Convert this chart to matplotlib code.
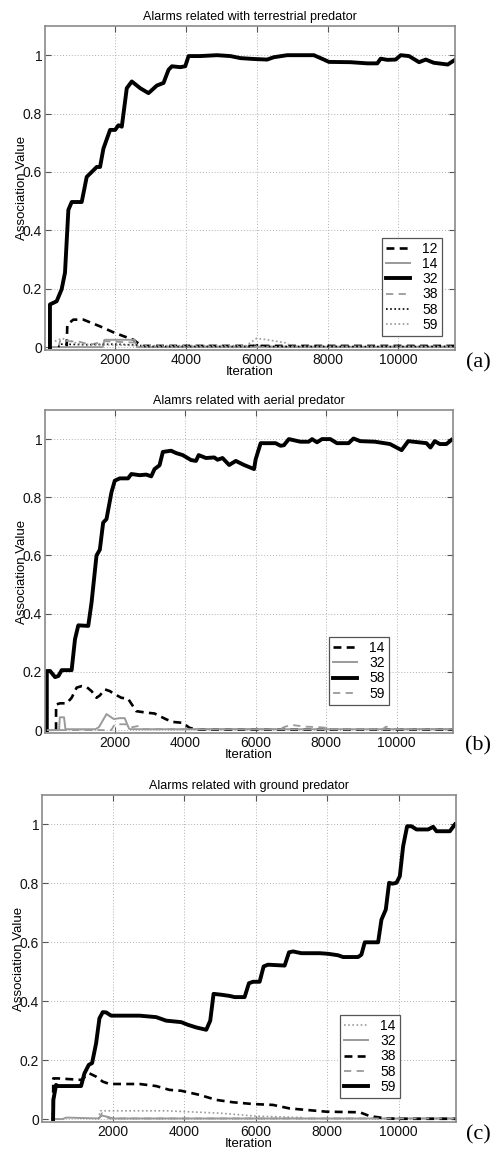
import matplotlib
matplotlib.use("Agg")
import matplotlib.pyplot as plt

# ---------------- Data ----------------
# Panel (a): terrestrial predator
a32_x = [160, 160, 349, 490, 585, 680, 774, 1057, 1198, 1340, 1481, 1575, 1670, 1858, 2000, 2094, 2189, 2330, 2472,
         2708, 2943, 3179, 3368, 3509, 3604, 3840, 3981, 4075, 4406, 4877, 5255, 5538, 5915, 6292, 6481, 6858, 7047,
         7613, 7896, 8038, 8651, 9123, 9406, 9500, 9689, 9925, 10066, 10302, 10585, 10774, 11000, 11396, 11585]
a32_y = [0.0, 0.146, 0.157, 0.198, 0.255, 0.47, 0.497, 0.497, 0.583, 0.60, 0.617, 0.617, 0.68, 0.744, 0.744, 0.76,
         0.755, 0.887, 0.91, 0.887, 0.87, 0.896, 0.905, 0.95, 0.962, 0.959, 0.962, 0.997, 0.997, 1.0, 0.997, 0.99,
         0.987, 0.985, 0.993, 1.0, 1.0, 1.0, 0.985, 0.977, 0.976, 0.972, 0.972, 0.988, 0.984, 0.985, 1.0, 0.997,
         0.976, 0.985, 0.974, 0.968, 0.983]
a12_x = [632, 650, 820, 1104, 1575, 2000, 2519, 2708, 2800, 11600]
a12_y = [0.0, 0.077, 0.094, 0.094, 0.071, 0.048, 0.025, 0.008, 0.004, 0.004]
a14_x = [160, 1650, 1700, 2550, 2620, 11600]
a14_y = [0.0, 0.0, 0.025, 0.025, 0.0, 0.0]
a38_x = [400, 450, 1000, 1300, 1700, 2600, 2750, 11600]
a38_y = [0.0, 0.022, 0.018, 0.008, 0.02, 0.015, 0.002, 0.002]
a58_x = [400, 450, 1200, 2000, 2700, 2800, 5800, 6000, 6300, 11600]
a58_y = [0.0, 0.01, 0.008, 0.01, 0.006, 0.002, 0.002, 0.008, 0.002, 0.002]
a59_x = [300, 500, 1000, 2700, 5700, 6000, 6300, 6800, 7000, 11600]
a59_y = [0.02, 0.03, 0.01, 0.005, 0.005, 0.03, 0.025, 0.015, 0.002, 0.002]

# Panel (b): aerial predator
b58_x = [71, 71, 165, 306, 400, 494, 776, 871, 965, 1247, 1341, 1482, 1576, 1671, 1765, 1906, 2000, 2141, 2376,
         2471, 2706, 2894, 3035, 3129, 3271, 3365, 3600, 3741, 3929, 4165, 4306, 4381, 4588, 4824, 4918, 5059, 5247,
         5435, 5671, 5953, 6000, 6141, 6565, 6706, 6800, 6941, 7271, 7506, 7600, 7741, 7882, 8118, 8306, 8635, 8776,
         8965, 9388, 9812, 10141, 10329, 10847, 10960, 11082, 11224, 11412, 11553]
b58_y = [0.0, 0.203, 0.203, 0.182, 0.186, 0.206, 0.206, 0.312, 0.36, 0.358, 0.438, 0.6, 0.62, 0.713, 0.725, 0.817,
         0.857, 0.865, 0.865, 0.88, 0.876, 0.878, 0.872, 0.897, 0.91, 0.956, 0.96, 0.952, 0.945, 0.928, 0.925, 0.945,
         0.935, 0.937, 0.929, 0.935, 0.911, 0.925, 0.911, 0.897, 0.931, 0.986, 0.986, 0.977, 0.979, 1.0, 0.991, 0.991,
         1.0, 0.989, 1.0, 1.0, 0.986, 0.986, 1.002, 0.993, 0.991, 0.983, 0.962, 0.993, 0.986, 0.971, 0.993, 0.983,
         0.983, 0.997]
b14_x = [334, 334, 447, 635, 776, 918, 1059, 1200, 1341, 1482, 1576, 1718, 1859, 2000, 2188, 2376, 2612, 2894, 3129,
         3459, 3647, 3929, 4118, 4306, 11600]
b14_y = [0.0, 0.088, 0.092, 0.092, 0.111, 0.146, 0.151, 0.148, 0.134, 0.111, 0.119, 0.14, 0.134, 0.123, 0.111, 0.108,
         0.065, 0.06, 0.057, 0.037, 0.028, 0.025, 0.008, 0.002, 0.002]
b32_x = [71, 420, 440, 560, 600, 1450, 1550, 1765, 1972, 2141, 2282, 2405, 2450, 11600]
b32_y = [0.0, 0.0, 0.044, 0.044, 0.003, 0.003, 0.01, 0.055, 0.038, 0.041, 0.041, 0.005, 0.003, 0.003]
b59_x = [71, 1900, 2000, 2300, 2500, 2700, 2800, 6700, 6800, 7000, 7400, 7800, 8000, 8200, 9600, 9700, 9900, 11600]
b59_y = [0.0, 0.0, 0.02, 0.02, 0.01, 0.015, 0.003, 0.003, 0.01, 0.018, 0.012, 0.01, 0.008, 0.003, 0.003, 0.012,
         0.003, 0.003]

# Panel (c): ground predator
c59_x = [330, 338, 413, 460, 1113, 1207, 1328, 1421, 1533, 1627, 1720, 1813, 1953, 2747, 3213, 3493, 3914, 4100,
         4334, 4614, 4726, 4819, 5034, 5267, 5407, 5687, 5808, 5921, 6107, 6219, 6340, 6807, 6929, 7041, 7274, 7788,
         8021, 8301, 8441, 8861, 8954, 9048, 9421, 9515, 9636, 9729, 9823, 9935, 10028, 10121, 10233, 10354, 10494,
         10821, 10961, 11054, 11428, 11568]
c59_y = [0.0, 0.065, 0.116, 0.112, 0.112, 0.155, 0.184, 0.19, 0.257, 0.342, 0.363, 0.362, 0.351, 0.351, 0.346, 0.334,
         0.329, 0.32, 0.311, 0.303, 0.334, 0.425, 0.422, 0.418, 0.414, 0.414, 0.461, 0.466, 0.466, 0.518, 0.524,
         0.521, 0.566, 0.569, 0.563, 0.563, 0.561, 0.556, 0.55, 0.55, 0.558, 0.6, 0.6, 0.677, 0.711, 0.802, 0.799,
         0.802, 0.824, 0.926, 0.994, 0.994, 0.983, 0.983, 0.992, 0.977, 0.977, 1.0]
c38_x = [330, 335, 460, 1113, 1347, 1533, 1720, 1907, 2747, 3213, 3587, 3914, 4427, 4894, 5361, 5921, 6481, 6947,
         7414, 7974, 8908, 9188, 9655, 10028, 11600]
c38_y = [0.0, 0.138, 0.138, 0.133, 0.155, 0.144, 0.127, 0.119, 0.119, 0.112, 0.099, 0.096, 0.082, 0.065, 0.057,
         0.051, 0.048, 0.036, 0.031, 0.025, 0.023, 0.01, 0.002, 0.001, 0.001]
c14_x = [1600, 1650, 3500, 5000, 6000, 7300]
c14_y = [0.0, 0.028, 0.028, 0.02, 0.01, 0.005]
c32_x = [300, 600, 700, 1600, 1700, 1900, 2000, 11600]
c32_y = [0.0, 0.0, 0.005, 0.002, 0.012, 0.006, 0.002, 0.002]
c58_x = [1600, 1700, 1800, 1900, 11600]
c58_y = [0.0, 0.02, 0.01, 0.002, 0.002]

titles = ["Alarms related with terrestrial predator",
          "Alamrs related with aerial predator",
          "Alarms related with ground predator"]
panel_tags = ["(a)", "(b)", "(c)"]
xticks = [2000, 4000, 6000, 8000, 10000]
yticks = [0, 0.2, 0.4, 0.6, 0.8, 1.0]
ytick_labels = ["0", "0.2", "0.4", "0.6", "0.8", "1"]

# ---------------- Styles ----------------
GRAY = "#9a9a9a"
BLK = dict(color="black", lw=2.8, ls="-")
BDASH = dict(color="black", lw=1.9, ls=(0, (3, 2)))
GSOL = dict(color=GRAY, lw=1.4, ls="-")
GDASH = dict(color=GRAY, lw=1.3, ls=(0, (4, 3)))
BDOT = dict(color="black", lw=1.2, ls=(0, (1, 1.5)))
GDOT = dict(color=GRAY, lw=1.2, ls=(0, (1, 1.5)))

plt.rcParams["font.family"] = ["Liberation Sans", "DejaVu Sans"]

fig = plt.figure(figsize=(4.99, 11.57), dpi=100)
W, H = 499.0, 1157.0
# (left, top, right, bottom) in pixels
boxes = [(45, 26, 455, 350), (45, 410, 453, 733), (42, 795, 456, 1122)]
legend_anchor = [(0.968, 0.346), (0.843, 0.297), (0.865, 0.327)]

series = [
    [(a12_x, a12_y, "12", BDASH), (a14_x, a14_y, "14", GSOL), (a32_x, a32_y, "32", BLK),
     (a38_x, a38_y, "38", GDASH), (a58_x, a58_y, "58", BDOT), (a59_x, a59_y, "59", GDOT)],
    [(b14_x, b14_y, "14", BDASH), (b32_x, b32_y, "32", GSOL), (b58_x, b58_y, "58", BLK),
     (b59_x, b59_y, "59", GDASH)],
    [(c14_x, c14_y, "14", GDOT), (c32_x, c32_y, "32", GSOL), (c38_x, c38_y, "38", BDASH),
     (c58_x, c58_y, "58", GDASH), (c59_x, c59_y, "59", BLK)],
]

for i, (l, t, r, b) in enumerate(boxes):
    ax = fig.add_axes([l / W, (H - b) / H, (r - l) / W, (b - t) / H])
    for xs, ys, lab, st in series[i]:
        ax.plot(xs, ys, label=lab, **st)
    ax.set_xlim(20, 11600)
    ax.set_ylim(-0.01, 1.1)
    ax.set_xticks(xticks)
    ax.set_yticks(yticks)
    ax.set_yticklabels(ytick_labels)
    ax.tick_params(direction="in", length=4, width=0.8, color="#555555", labelsize=10,
                   top=True, right=True, pad=2, labelcolor="#111111")
    ax.grid(True, ls=(0, (1, 2)), color="#b0b0b0", lw=0.7)
    for s in ax.spines.values():
        s.set_color("#8a8a8a")
        s.set_linewidth(1.2)
    ax.set_title(titles[i], fontsize=9, pad=4)
    ax.text(-0.056, 0.5, "Association Value", rotation=90, ha="center", va="center",
            fontsize=9.5, transform=ax.transAxes)
    ax.text(0.5, -22.0 / (b - t), "Iteration", ha="center", va="center",
            fontsize=9.5, transform=ax.transAxes)
    leg = ax.legend(loc="upper right", bbox_to_anchor=legend_anchor[i], borderaxespad=0,
                    fontsize=10, labelspacing=0.08, handlelength=1.7, handletextpad=0.9,
                    borderpad=0.3, fancybox=False, framealpha=1, edgecolor="#555555")
    leg.get_frame().set_linewidth(0.9)
    fig.text(478 / W, 1 - (b + 13) / H, panel_tags[i], family=["Liberation Serif", "DejaVu Serif"],
             fontsize=16, ha="center", va="center")

fig.savefig("out.png", dpi=100)
